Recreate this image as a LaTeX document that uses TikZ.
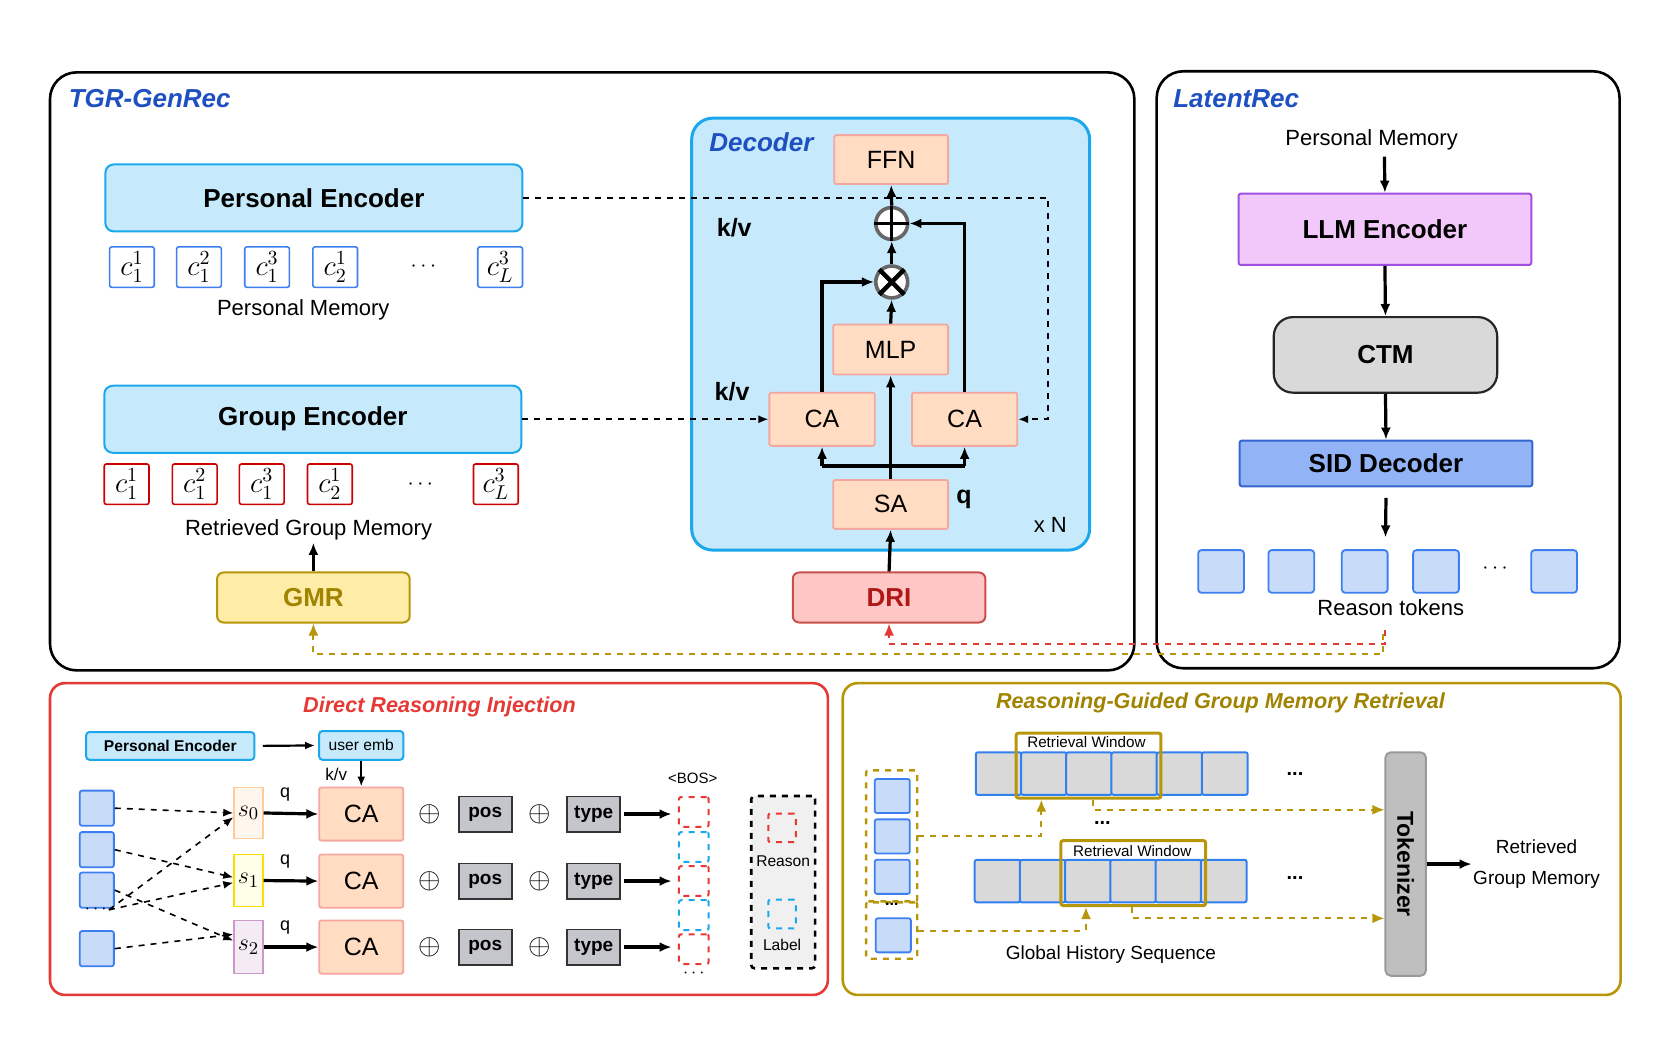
\documentclass[tikz,border=0pt]{standalone}
\usepackage{fontspec}
\setmainfont{Liberation Sans}
\usetikzlibrary{arrows.meta,calc}
\newdimen\px \px=0.532pt
\newcommand\fsz[1]{\fontsize{#1}{#1}\selectfont}
\definecolor{lb}{HTML}{C6EAFB}
\definecolor{lbs}{HTML}{1AA7EC}
\definecolor{tblue}{HTML}{1F50C0}
\definecolor{peach}{HTML}{FFDCC2}
\definecolor{peachs}{HTML}{F4A6A0}
\definecolor{goldS}{HTML}{B8960A}
\definecolor{goldT}{HTML}{A08300}
\definecolor{gmrF}{HTML}{FFECA6}
\definecolor{driF}{HTML}{FFC6C6}
\definecolor{driS}{HTML}{C8504A}
\definecolor{driT}{HTML}{B01818}
\definecolor{redT}{HTML}{E53935}
\definecolor{llmF}{HTML}{F2C8FA}
\definecolor{llmS}{HTML}{A050E0}
\definecolor{ctmF}{HTML}{D9D9D9}
\definecolor{sidF}{HTML}{92B4F6}
\definecolor{sidS}{HTML}{3566D0}
\definecolor{tokF}{HTML}{C8DCFA}
\definecolor{tokS}{HTML}{3D7FF0}
\definecolor{cellS}{HTML}{3080F0}
\definecolor{posF}{HTML}{C4C6CC}
\definecolor{legF}{HTML}{F0F0F0}
\definecolor{dbBlue}{HTML}{1AA7EC}
\begin{document}
\begin{tikzpicture}[x=0.532pt,y=-0.532pt,
  arr/.style={-{Latex[length=6pt,width=5pt]},line width=1.6pt},
  thinarr/.style={-{Latex[length=5pt,width=4pt]},line width=1.1pt},
  dsh/.style={dashed,line width=0.8pt,-{Latex[length=5pt,width=4pt]}},
  gdsh/.style={dashed,draw=goldS,line width=1pt,-{Latex[length=6pt,width=5pt]},goldS},
  frame/.style={line width=1.3pt,rounded corners=25\px},
  lbbox/.style={draw=lbs,fill=lb,line width=1pt,rounded corners=8\px},
  pbox/.style={draw=peachs,fill=peach,line width=0.9pt,rounded corners=2\px,font=\fsz{12.5}},
  cbl/.style={draw=tokS,line width=0.8pt,rounded corners=2\px,minimum width=42\px,minimum height=38\px,inner sep=0pt,font=\fsz{14}},
  cbr/.style={draw=red!80!black,line width=0.8pt,rounded corners=2\px,minimum width=42\px,minimum height=38\px,inner sep=0pt,font=\fsz{14}},
  tok/.style={draw=tokS,fill=tokF,line width=0.9pt,rounded corners=3\px,minimum width=43\px,minimum height=40\px},
  sq/.style={draw=tokS,fill=tokF,line width=0.9pt,rounded corners=2\px,minimum width=32\px,minimum height=33\px},
  cell/.style={draw=cellS,fill=ctmF,line width=1pt,rounded corners=2\px,minimum width=43\px,minimum height=40\px},
  gbox/.style={draw=black!80,fill=posF,line width=0.9pt,minimum width=50\px,minimum height=33\px,font=\bfseries\fsz{9.5}},
  opl/.style={circle,draw=black!60,line width=1.8pt,fill=white,minimum size=30\px,inner sep=0pt},
  db/.style={dashed,line width=1pt,minimum width=28\px,minimum height=28\px,rounded corners=2\px},
  ttl/.style={font=\bfseries\itshape\fsz{13},text=tblue},
  txt/.style={font=\fsz{11}}]
\useasboundingbox (0,0) rectangle (1560,989);

% ===== TGR-GenRec =====
\draw[frame] (47,68) rectangle (1066,630);
\node[ttl,anchor=west] (tgrt) at (58,93) {TGR-GenRec};
\node[lbbox,minimum width=392\px,minimum height=63\px,font=\bfseries\fsz{13}] (pe) at (295,186) {Personal Encoder};
\foreach \n/\x/\t in {1/124/{c_1^1},2/187/{c_1^2},3/251/{c_1^3},4/315/{c_2^1},6/470/{c_L^3}}
  \node[cbl] (pc\n) at (\x,251) {$\t$};
\node[font=\fsz{11}] (pcd) at (398,251) {$\cdots$};
\node[txt] (pml) at (285,291) {Personal Memory};
\node[lbbox,minimum width=392\px,minimum height=63\px,font=\bfseries\fsz{13}] (ge) at (294,394) {Group Encoder};
\foreach \n/\x/\t in {1/119/{c_1^1},2/183/{c_1^2},3/246/{c_1^3},4/310/{c_2^1},6/466/{c_L^3}}
  \node[cbr] (gc\n) at (\x,455) {$\t$};
\node[font=\fsz{11}] (gcd) at (395,455) {$\cdots$};
\node[txt] (gml) at (290,498) {Retrieved Group Memory};
\node[draw=goldS,fill=gmrF,line width=1pt,rounded corners=6\px,minimum width=181\px,minimum height=47\px,font=\bfseries\fsz{13},text=goldT] (gmr) at (294.5,561.5) {GMR};
\draw[arr] (gmr.north) -- ($(gmr.north)+(0,-27)$);

% Decoder
\node[draw=lbs,fill=lb,line width=1.5pt,rounded corners=20\px,minimum width=374\px,minimum height=406\px] (dec) at (837,314) {};
\node[ttl,anchor=west] (dect) at (660,134) {Decoder};
\node[pbox,minimum width=107\px,minimum height=46\px] (ffn) at (837.5,150) {FFN};
\node[opl] (op) at (838,210) {};
\draw[line width=1.6pt] (op.north) -- (op.south) (op.west) -- (op.east);
\node[opl] (ot) at (838,265) {};
\draw[line width=2.2pt] (ot.north west) -- (ot.south east) (ot.north east) -- (ot.south west);
\node[pbox,minimum width=108\px,minimum height=47\px] (mlp) at (837,328.5) {MLP};
\node[pbox,minimum width=99\px,minimum height=50\px] (caL) at (772.5,394) {CA};
\node[pbox,minimum width=99\px,minimum height=50\px] (caR) at (906.5,394) {CA};
\node[pbox,minimum width=108\px,minimum height=46\px] (sa) at (837,474) {SA};
\node[font=\bfseries\fsz{12.5}] (qd) at (906,469) {q};
\node[font=\fsz{11}] (xn) at (987,493) {x N};
\node[font=\bfseries\fsz{12.5}] (kv1) at (690,214) {k/v};
\node[font=\bfseries\fsz{12.5}] (kv2) at (688,368) {k/v};
\node[draw=driS,fill=driF,line width=1pt,rounded corners=6\px,minimum width=181\px,minimum height=47\px,font=\bfseries\fsz{13},text=driT] (dri) at (835.5,561.5) {DRI};
\coordinate (br) at (837,438);
\draw[arr] (sa.north) -- (mlp.south);
\draw[line width=1.6pt] (caL.south|-br) -- (caR.south|-br);
\draw[arr] (caL.south|-br) -- (caL.south);
\draw[arr] (caR.south|-br) -- (caR.south);
\draw[arr] (caL.north) |- (ot.west);
\draw[arr] (mlp.north) -- (ot.south);
\draw[arr] (ot.north) -- (op.south);
\draw[arr] (op.north) -- (ffn.south);
\draw[arr] (caR.north) |- (op.east);
\draw[dsh] (pe.east) -- (985,186) |- (caR.east);
\draw[dsh] (ge.east) -- (caL.west);
\draw[arr] (dri.north) -- (sa.south);

% ===== LatentRec =====
\draw[frame] (1087,67) rectangle (1522,628);
\node[ttl,anchor=west] (lrt) at (1096,93) {LatentRec};
\node[txt] (pm2) at (1289,131) {Personal Memory};
\node[draw=llmS,fill=llmF,line width=1pt,rounded corners=2\px,minimum width=275\px,minimum height=67\px,font=\bfseries\fsz{13}] (llm) at (1301.5,215.5) {LLM Encoder};
\node[draw=black!85,fill=ctmF,line width=1.1pt,rounded corners=18\px,minimum width=210\px,minimum height=71\px,font=\bfseries\fsz{13}] (ctm) at (1302,333.5) {CTM};
\node[draw=sidS,fill=sidF,line width=1pt,rounded corners=2\px,minimum width=275\px,minimum height=43\px,font=\bfseries\fsz{13}] (sid) at (1302.5,435.5) {SID Decoder};
\draw[arr] (pm2.south) ++(12,0) -- (llm.north);
\draw[arr] (llm.south) -- (ctm.north);
\draw[arr] (ctm.south) -- (sid.north);
\coordinate (rt) at (1302,505);
\draw[arr] ($(sid.south)+(0,10)$) -- (rt);
\foreach \n/\x in {1/1147.5,2/1213.5,3/1282.5,4/1349.5,6/1460.5}
  \node[tok] (rk\n) at (\x,537) {};
\node[font=\fsz{11}] (rkd) at (1405,534) {$\cdots$};
\node[txt] (rtk) at (1307,571) {Reason tokens};
\coordinate (rs) at (1302,592);
\draw[dashed,draw=redT,line width=1pt,-{Latex[length=6pt,width=5pt]},redT] (rs) -- (1302,605) -| (dri.south);
\draw[gdsh] (1300,596) -- (1300,615) -| (gmr.south);

% ===== Direct Reasoning Injection =====
\draw[draw=redT,line width=1.3pt,rounded corners=14\px] (47,642) rectangle (778,935);
\node[font=\bfseries\itshape\fsz{10.8},text=redT] (drit) at (413,664) {Direct Reasoning Injection};
\node[lbbox,rounded corners=3\px,minimum width=158\px,minimum height=26\px,font=\bfseries\fsz{7.8},inner sep=0pt] (pe2) at (160,701) {Personal Encoder};
\node[lbbox,rounded corners=3\px,minimum width=79\px,minimum height=27\px,font=\fsz{7.8},inner sep=0pt] (ue) at (339.5,700.5) {user emb};
\draw[thinarr,shorten <=7\px,shorten >=3\px] (pe2.east) -- (ue.west);
\node[font=\fsz{8.5}] (kv3) at (316,728) {k/v};
\node[sq] (sq1) at (91,759.5) {};
\node[sq] (sq2) at (91,798.5) {};
\node[sq] (sq3) at (91,836.5) {};
\node[sq] (sq4) at (91,891.5) {};
\node[font=\fsz{9},inner sep=1pt] (sqd) at (90,855) {$\cdots$};
\node[draw=orange!40,fill=orange!7,line width=0.8pt,minimum width=27\px,minimum height=48\px,inner sep=0pt,font=\fsz{13}] (s0) at (233.5,764) {$s_0$};
\node[draw=yellow!80!orange,fill=yellow!10,line width=0.8pt,minimum width=27\px,minimum height=49\px,inner sep=0pt,font=\fsz{13}] (s1) at (233.5,827.5) {$s_1$};
\node[draw=violet!40,fill=violet!8,line width=0.8pt,minimum width=27\px,minimum height=50\px,inner sep=0pt,font=\fsz{13}] (s2) at (233.5,890) {$s_2$};
\foreach \i/\y in {0/765,1/828,2/890}{
  \node[font=\fsz{9}] (q\i) at (268,\y-18) {q};
  \node[pbox,minimum width=79\px,minimum height=50\px] (ca\i) at (339.5,\y) {CA};
  \node[font=\fsz{15}] (pa\i) at (404,\y) {$\oplus$};
  \node[gbox] (pos\i) at (456,\y) {pos};
  \node[font=\fsz{15}] (pb\i) at (507,\y) {$\oplus$};
  \node[gbox] (ty\i) at (558,\y) {type};
  \draw[arr] (s\i.east) -- (ca\i.west);
}
\draw[thinarr] (ue.south) -- (ca0.north);
\node[db,draw=redT] (d1) at (652,763) {};
\node[db,draw=dbBlue] (d2) at (652,796) {};
\node[db,draw=redT] (d3) at (652,828) {};
\node[db,draw=dbBlue] (d4) at (652,860) {};
\node[db,draw=redT] (d5) at (652,892) {};
\node[font=\fsz{9}] (dd) at (652,915) {$\cdots$};
\node[font=\fsz{7.5}] (bos) at (651,731) {<BOS>};
\draw[arr,shorten <=3\px,shorten >=6\px] (ty0.east) -- (ty0.east-|d1.west);
\draw[arr,shorten <=3\px,shorten >=6\px] (ty1.east) -- (ty1.east-|d3.west);
\draw[arr,shorten <=3\px,shorten >=6\px] (ty2.east) -- (ty2.east-|d5.west);
\node[draw,dashed,line width=1.3pt,fill=legF,minimum width=60\px,minimum height=162\px,rounded corners=3\px] (leg) at (736,829) {};
\node[db,draw=redT,minimum width=26\px,minimum height=27\px] (lr) at (735,778) {};
\node[font=\fsz{7.8}] (lrt2) at (736,809) {Reason};
\node[db,draw=dbBlue,minimum width=26\px,minimum height=27\px] (lbq) at (735,859) {};
\node[font=\fsz{7.8}] (lbt) at (735,888) {Label};
\draw[dsh] (sq1.east) -- (s0.west);
\draw[dsh] (sq2.east) -- ($(s1.west)+(0,-3)$);
\draw[dsh] (sq3.east) -- ($(s2.west)+(0,-6)$);
\draw[dsh] (sqd.east) -- ($(s0.west)+(0,4)$);
\draw[dsh] (sqd.east) -- ($(s1.west)+(0,2)$);
\draw[dsh] (sq4.east) -- ($(s2.west)+(0,-12)$);

% ===== Reasoning-Guided Group Memory Retrieval =====
\draw[draw=goldS,line width=1.3pt,rounded corners=14\px] (792,642) rectangle (1523,935);
\node[font=\bfseries\itshape\fsz{10.8},text=goldT] (rgt) at (1147,661) {Reasoning-Guided Group Memory Retrieval};
\foreach \i in {0,...,5}{
  \node[cell] (ra\i) at (938.5+42.5*\i,727) {};
  \node[cell] (rb\i) at (937.5+42.5*\i,828) {};
}
\node[draw=goldS,line width=1.5pt,minimum width=136\px,minimum height=61\px,rounded corners=2\px] (rw1) at (1023,719.5) {};
\node[font=\fsz{7.6},fill=white,inner sep=0.5pt] (rw1t) at (1021,697) {Retrieval Window};
\node[draw=goldS,line width=1.5pt,minimum width=136\px,minimum height=61\px,rounded corners=2\px] (rw2) at (1065,820.5) {};
\node[font=\fsz{7.6},fill=white,inner sep=0.5pt] (rw2t) at (1064,800) {Retrieval Window};
\node[font=\bfseries\fsz{10}] (e1) at (1217,727) {...};
\node[font=\bfseries\fsz{10}] (e2) at (1036,773) {...};
\node[font=\bfseries\fsz{10}] (e3) at (1217,825) {...};
\node[draw=goldS,dashed,line width=1.2pt,minimum width=48\px,minimum height=123\px,rounded corners=2\px] (g1) at (838,785.5) {};
\node[sq,minimum width=33\px,minimum height=32\px] (h1) at (838.5,748) {};
\node[sq,minimum width=33\px,minimum height=32\px] (h2) at (838.5,786) {};
\node[sq,minimum width=33\px,minimum height=32\px] (h3) at (838.5,824) {};
\node[draw=goldS,dashed,line width=1.2pt,minimum width=48\px,minimum height=53\px,rounded corners=2\px] (g2) at (838,874.5) {};
\node[font=\bfseries\fsz{8},inner sep=0pt] (gd) at (838,850) {...};
\node[sq,minimum width=33\px,minimum height=32\px] (h4) at (839.5,879) {};
\node[draw=black!40,fill=black!25,line width=1pt,rounded corners=5\px,minimum width=38\px,minimum height=210\px] (tkz) at (1321,812) {};
\node[rotate=-90,font=\bfseries\fsz{11.5}] (tkzt) at (tkz) {Tokenizer};
\draw[gdsh] (g1.east) -| ($(rw1.south west)+(25,0)$);
\draw[gdsh] (g2.east) -| ($(rw2.south west)+(25,0)$);
\coordinate (y1) at (1000,761);
\coordinate (y2) at (1000,863);
\draw[gdsh] ($(rw1.south)+(4,0)$) |- (tkz.west|-y1);
\draw[gdsh] ($(rw2.south)+(-1,0)$) |- (tkz.west|-y2);
\node[font=\fsz{9.5},align=center] (rgm) at (1444,812) {Retrieved\\[6pt]Group Memory};
\draw[arr] (tkz.east) -- ($(tkz.east)+(42,0)$);
\node[font=\fsz{9.5}] (ghs) at (1044,897) {Global History Sequence};
\end{tikzpicture}
\end{document}
